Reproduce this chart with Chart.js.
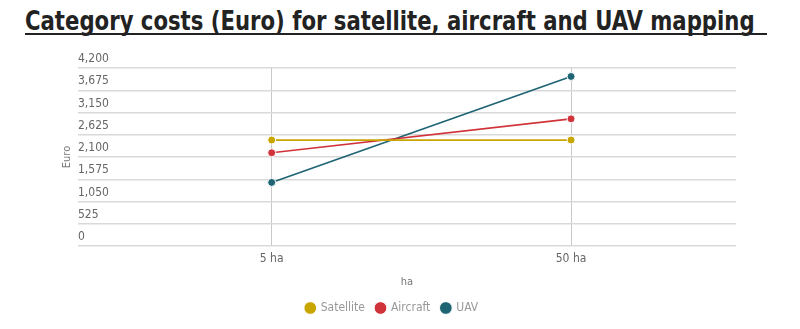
<!DOCTYPE html>
<html>
<head>
<meta charset="utf-8">
<script src="https://cdn.jsdelivr.net/npm/chart.js@4/dist/chart.umd.min.js"></script>
<style>
  html, body { margin: 0; padding: 0; background: #fff; }
  #wrap { position: relative; width: 800px; height: 329px; overflow: hidden; }
  #title {
    position: absolute; left: 25px; top: 7px;
    font: bold 27px "DejaVu Sans Condensed", "Liberation Sans", sans-serif;
    color: #222; line-height: 27px; white-space: nowrap;
    transform-origin: 0 0;
  }
  #underline { position: absolute; left: 25px; top: 33px; width: 742px; height: 2px; background: #222; }
  canvas { position: absolute; left: 0; top: 0; }
</style>
</head>
<body>
<div id="wrap">
  <div id="title">Category costs (Euro) for satellite, aircraft and UAV mapping</div>
  <div id="underline"></div>
  <canvas id="chart" width="800" height="329"></canvas>
</div>
<script>
const xLabels = ["5 ha", "50 ha"];
const satellite = [2500, 2500];
const aircraft = [2200, 3000];
const uav = [1500, 4000];
const yTicks = [0, 525, 1050, 1575, 2100, 2625, 3150, 3675, 4200];

const FONT = "'DejaVu Sans Condensed', 'Liberation Sans', sans-serif";
const GOLD = "#c9a500";
const RED = "#d0343a";
const TEAL = "#1e6473";

// squeeze the title to the width it has in the original
const titleEl = document.getElementById("title");
titleEl.style.transform = "scaleX(" + (730 / titleEl.scrollWidth) + ")";

function toPoints(values) {
  return values.map((v, i) => ({ x: i, y: v }));
}

function series(label, values, color) {
  return {
    label: label,
    data: toPoints(values),
    borderColor: color,
    backgroundColor: color,
    borderWidth: 1.7,
    pointRadius: 4,
    pointBorderColor: "#fff",
    pointBorderWidth: 1,
    pointHoverRadius: 5,
    tension: 0,
  };
}

Chart.defaults.font.family = FONT;
Chart.defaults.color = "#666";

new Chart(document.getElementById("chart"), {
  type: "line",
  data: {
    datasets: [
      series("Satellite", satellite, GOLD),
      series("Aircraft", aircraft, RED),
      series("UAV", uav, TEAL),
    ],
  },
  options: {
    responsive: false,
    animation: false,
    layout: { padding: { top: 68, left: 0, right: 16, bottom: 5 } },
    plugins: {
      tooltip: { enabled: false },
      legend: {
        position: "bottom",
        labels: {
          usePointStyle: true,
          pointStyle: "circle",
          boxWidth: 9,
          boxHeight: 9,
          padding: 11,
          color: "#999",
          font: { size: 12 },
        },
      },
    },
    scales: {
      x: {
        type: "linear",
        min: -0.647,
        max: 1.551,
        afterBuildTicks: (scale) => {
          scale.ticks = xLabels.map((_, i) => ({ value: i }));
        },
        afterFit: (scale) => { scale.height = 45; },
        border: { display: false },
        grid: { color: "#c8c8c8", drawTicks: false },
        ticks: {
          padding: 6,
          color: "#666",
          font: { size: 12 },
          callback: (v) => xLabels[v],
        },
        title: { display: true, text: "ha", color: "#777", font: { size: 11 }, padding: { top: 0, bottom: 2 } },
      },
      y: {
        min: 0,
        max: 4200,
        afterBuildTicks: (scale) => {
          scale.ticks = yTicks.map((v) => ({ value: v }));
        },
        afterFit: (scale) => { scale.width = 78; },
        border: { display: false },
        grid: { color: "#d9d9d9", lineWidth: 1.4, drawTicks: false },
        ticks: {
          mirror: true,
          padding: 0,
          labelOffset: -9,
          color: "#666",
          font: { size: 12 },
          callback: (v) => v.toLocaleString("en-US"),
        },
        title: { display: true, text: "Euro", color: "#777", font: { size: 11 }, padding: { top: 61, bottom: 0 } },
      },
      // empty right-hand space so the legend centres on the whole page
      spacer: {
        type: "linear",
        position: "right",
        display: true,
        afterFit: (scale) => { scale.width = 48; },
        border: { display: false },
        grid: { display: false },
        ticks: { display: false },
      },
    },
  },
});
</script>
</body>
</html>
